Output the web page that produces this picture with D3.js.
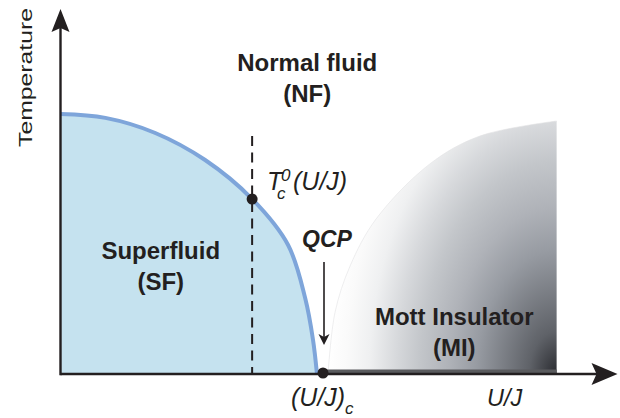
<!DOCTYPE html>
<html><head><meta charset="utf-8">
<script src="https://cdn.jsdelivr.net/npm/d3@7"></script>
<style>html,body{margin:0;padding:0;background:#fff;}svg{display:block;font-family:"Liberation Sans",Arial,Helvetica,sans-serif;}</style>
</head><body>
<svg id="c" width="620" height="418"></svg>
<script>
// Superfluid phase boundary T_c(U/J), (U/J)_c = 1, T_c(0) = 1
const sfU = [0, 0.171, 0.361, 0.551, 0.730, 0.867, 0.932, 0.962, 0.977];
const sfT = [1.0, 0.985, 0.927, 0.823, 0.673, 0.496, 0.292, 0.131, 0];
// Mott insulator crossover region boundary
const miU = [1.019, 1.046, 1.103, 1.202, 1.407, 1.597, 1.890];
const miT = [0, 0.238, 0.415, 0.596, 0.808, 0.915, 0.973];
// marked points
const qcpU = 1.0, tcU = 0.730, tcT = 0.673, dashTop = 0.915;
const qcpArrowT = [0.431, 0.112];
const uMax = 2.122, tMax = 1.404;
const regionLabels = [
  {lines:["Normal fluid","(NF)"], u:0.94, t:1.165},
  {lines:["Superfluid","(SF)"], u:0.382, t:0.442},
  {lines:["Mott Insulator","(MI)"], u:1.50, t:0.188}
];

const svg = d3.select("#c");
const x = d3.scaleLinear().domain([0, 1]).range([60.5, 323]);
const y = d3.scaleLinear().domain([0, 1]).range([374, 114]);
const ink = "#231f20";

// gradient (elliptical, centred at the bottom-right corner of the MI region)
const gcx = x(miU[miU.length-1]), gcy = y(0);
const grx = gcx - x(miU[0]), gry = (y(0) - y(d3.max(miT))) * 1.4;
const defs = svg.append("defs");
const g = defs.append("radialGradient").attr("id","mg").attr("gradientUnits","userSpaceOnUse")
  .attr("cx",gcx).attr("cy",gcy).attr("r",grx)
  .attr("gradientTransform",`translate(${gcx},${gcy}) scale(1,${gry/grx}) translate(${-gcx},${-gcy})`);
[[0,"#2a2b30"],[0.12,"#5f6268"],[0.35,"#979ba2"],[0.47,"#afb2b8"],[0.6,"#c3c6ca"],[0.7,"#d6d8db"],[0.82,"#eff0f1"],[0.92,"#fafafa"],[1,"#ffffff"]]
  .forEach(s=>g.append("stop").attr("offset",s[0]).attr("stop-color",s[1]));

// Mott region
const miPts = miU.map((u,i)=>[x(u), y(miT[i])]);
const arc = d3.line().curve(d3.curveCatmullRom.alpha(0.5))(miPts);
svg.append("path")
  .attr("d", arc + `L${gcx},${gcy}Z`)
  .attr("fill","url(#mg)");
svg.append("path").attr("d",arc).attr("fill","none").attr("stroke","#e2e2e4").attr("stroke-width",0.6);

// Superfluid region
const sfPts = sfU.map((u,i)=>[x(u), y(sfT[i])]);
const sfCurve = d3.line().curve(d3.curveCatmullRom.alpha(0.5))(sfPts);
svg.append("path").attr("d", sfCurve + `L${x(0)},${y(0)}Z`).attr("fill","#c5e2ef");
svg.append("path").attr("d", sfCurve).attr("fill","none").attr("stroke","#7ea5da").attr("stroke-width",4);

// MI ground band
svg.append("line").attr("x1",x(qcpU)).attr("x2",gcx)
  .attr("y1",y(0)-2.5).attr("y2",y(0)-2.5).attr("stroke","#5a5b5e").attr("stroke-width",4);

// axes
svg.append("line").attr("x1",x(0)).attr("y1",y(0)).attr("x2",x(uMax)-20).attr("y2",y(0))
  .attr("stroke",ink).attr("stroke-width",2.6);
svg.append("line").attr("x1",x(0)).attr("y1",y(0)+1.3).attr("x2",x(0)).attr("y2",y(tMax)+18)
  .attr("stroke",ink).attr("stroke-width",2.4);
const xt = x(uMax), yt = y(tMax);
svg.append("path").attr("d",`M${xt},${y(0)}L${xt-26},${y(0)-11}L${xt-21},${y(0)}L${xt-26},${y(0)+11}Z`).attr("fill",ink);
svg.append("path").attr("d",`M${x(0)},${yt}L${x(0)-9},${yt+23}L${x(0)},${yt+19}L${x(0)+9},${yt+23}Z`).attr("fill",ink);

// dashed line + Tc point
svg.append("line").attr("x1",x(tcU)).attr("x2",x(tcU)).attr("y1",y(dashTop)).attr("y2",y(0))
  .attr("stroke",ink).attr("stroke-width",2).attr("stroke-dasharray","10,6.5");
svg.append("circle").attr("cx",x(tcU)).attr("cy",y(tcT)).attr("r",5.5).attr("fill",ink);

// QCP arrow + point
svg.append("line").attr("x1",x(qcpU)+1).attr("x2",x(qcpU)+1).attr("y1",y(qcpArrowT[0])).attr("y2",y(qcpArrowT[1])-8)
  .attr("stroke",ink).attr("stroke-width",1.6);
const at = y(qcpArrowT[1]);
svg.append("path").attr("d",`M${x(qcpU)+1},${at}L${x(qcpU)-4.5},${at-11}L${x(qcpU)+1},${at-8}L${x(qcpU)+6.5},${at-11}Z`).attr("fill",ink);
svg.append("circle").attr("cx",x(qcpU)).attr("cy",y(0)-1).attr("r",5.5).attr("fill",ink);

// region labels
regionLabels.forEach(L=>{
  const t = svg.append("text").attr("text-anchor","middle").attr("font-weight","bold")
    .attr("font-size",24).attr("fill",ink);
  L.lines.forEach((s,i)=>t.append("tspan").attr("x",x(L.u)).attr("y",y(L.t)+i*31).text(s));
});

// QCP label
svg.append("text").attr("x",x(qcpU)+4).attr("y",247).attr("text-anchor","middle")
  .attr("font-weight","bold").attr("font-style","italic").attr("font-size",23).attr("fill",ink).text("QCP");

// multi-part italic labels
function parts(list){
  const t = svg.append("text").attr("font-style","italic").attr("fill",ink);
  list.forEach(p=>t.append("tspan").attr("x",p[1]).attr("y",p[2]).attr("font-size",p[3]).text(p[0]));
}
parts([["T",267,190,25],["c",277,199,17],["0",281,181,17],["(U/J)",293,190,25]]);
parts([["(U/J)",291,406,25],["c",345,414,17]]);
parts([["U/J",487,406,23.5]]);

svg.append("text").attr("transform",`translate(32,77.5) rotate(-90)`).attr("text-anchor","middle")
  .attr("font-size",18).attr("textLength",139).attr("lengthAdjust","spacingAndGlyphs")
  .attr("fill",ink).text("Temperature");
</script>
</body></html>
